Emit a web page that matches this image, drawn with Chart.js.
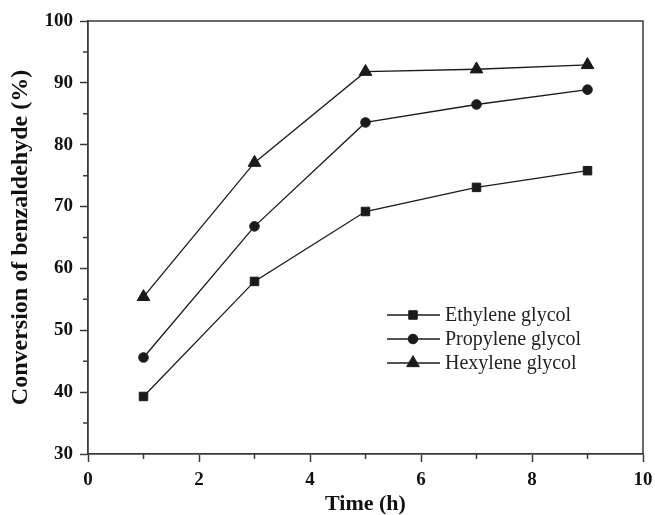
<!DOCTYPE html>
<html>
<head>
<meta charset="utf-8">
<script src="https://cdn.jsdelivr.net/npm/chart.js@4.4.1/dist/chart.umd.min.js"></script>
<style>
  html, body { margin: 0; padding: 0; background: #fff; }
  #wrap { width: 655px; height: 515px; }
</style>
</head>
<body>
<div id="wrap"><canvas id="conversionChart"></canvas></div>
<script>
// reaction time (h)
var times = [1, 3, 5, 7, 9];

// conversion of benzaldehyde (%) for each glycol
var ethyleneGlycol = [39.3, 57.9, 69.2, 73.1, 75.8];
var propyleneGlycol = [45.6, 66.8, 83.6, 86.5, 88.9];
var hexyleneGlycol = [55.4, 77.1, 91.8, 92.2, 92.9];

var seriesNames = ['Ethylene glycol', 'Propylene glycol', 'Hexylene glycol'];

var xTicks = [0, 2, 4, 6, 8, 10];
var yTicks = [30, 40, 50, 60, 70, 80, 90, 100];

var ink = '#1a1a1a';
var axisInk = '#3a3a3a';
var serif = "'Liberation Serif', 'Times New Roman', serif";

function toPoints(values) {
    return values.map(function (v, i) { return { x: times[i], y: v }; });
}

// outer frame plus the short minor ticks between the labelled ones
var framePlugin = {
    id: 'frame',
    afterDraw: function (chart) {
        var ctx = chart.ctx;
        var a = chart.chartArea;
        var xs = chart.scales.x;
        var ys = chart.scales.y;
        ctx.save();
        ctx.strokeStyle = axisInk;
        ctx.lineWidth = 1.5;
        ctx.beginPath();
        ctx.moveTo(a.left, a.top);
        ctx.lineTo(a.right, a.top);
        ctx.lineTo(a.right, a.bottom);
        ctx.stroke();

        ctx.beginPath();
        for (var t = 1; t < 10; t += 2) {
            var px = xs.getPixelForValue(t);
            ctx.moveTo(px, a.bottom);
            ctx.lineTo(px, a.bottom + 5);
        }
        for (var v = 35; v < 100; v += 10) {
            var py = ys.getPixelForValue(v);
            ctx.moveTo(a.left, py);
            ctx.lineTo(a.left - 5, py);
        }
        ctx.stroke();
        ctx.restore();
    }
};

// legend drawn inside the plot area, line + marker + name
var insideLegend = {
    id: 'insideLegend',
    afterDraw: function (chart) {
        var ctx = chart.ctx;
        var a = chart.chartArea;
        var x0 = a.left + 299;
        var y0 = a.top + 294;
        var rowGap = 24;
        ctx.save();
        chart.data.datasets.forEach(function (ds, i) {
            var y = y0 + i * rowGap;
            ctx.strokeStyle = ink;
            ctx.lineWidth = 1.3;
            ctx.beginPath();
            ctx.moveTo(x0, y);
            ctx.lineTo(x0 + 53, y);
            ctx.stroke();
            ctx.fillStyle = ink;
            ctx.strokeStyle = ink;
            ctx.lineWidth = 1;
            Chart.helpers.drawPoint(ctx, {
                pointStyle: ds.pointStyle,
                radius: ds.pointRadius,
                rotation: 0,
                borderWidth: 1
            }, x0 + 26, y);
            ctx.fillStyle = '#222';
            ctx.font = "20px " + serif;
            ctx.textBaseline = 'middle';
            ctx.textAlign = 'left';
            ctx.fillText(ds.label, x0 + 58, y + 1);
        });
        ctx.restore();
    }
};

function makeSet(label, values, style, radius) {
    return {
        label: label,
        data: toPoints(values),
        borderColor: ink,
        backgroundColor: ink,
        borderWidth: 1.3,
        pointStyle: style,
        pointRadius: radius,
        pointHoverRadius: radius,
        pointBackgroundColor: ink,
        pointBorderColor: ink,
        pointBorderWidth: 1,
        tension: 0,
        fill: false
    };
}

var ctx = document.getElementById('conversionChart').getContext('2d');
var chart = new Chart(ctx, {
    type: 'line',
    data: {
        datasets: [
            makeSet(seriesNames[0], ethyleneGlycol, 'rect', 6),
            makeSet(seriesNames[1], propyleneGlycol, 'circle', 4.8),
            makeSet(seriesNames[2], hexyleneGlycol, 'triangle', 7.3)
        ]
    },
    options: {
        responsive: true,
        maintainAspectRatio: false,
        animation: false,
        layout: { padding: { left: 6, right: 0, top: 21, bottom: 0 } },
        plugins: {
            legend: { display: false },
            tooltip: { enabled: false }
        },
        scales: {
            x: {
                type: 'linear',
                min: 0,
                max: 10,
                afterBuildTicks: function (scale) {
                    scale.ticks = xTicks.map(function (v) { return { value: v }; });
                },
                afterFit: function (scale) {
                    scale.height = 61;
                    scale.paddingRight = 12;
                },
                grid: {
                    drawOnChartArea: false,
                    drawTicks: true,
                    tickLength: 8,
                    tickWidth: 1.5,
                    tickColor: axisInk
                },
                border: { color: axisInk, width: 1.8 },
                ticks: {
                    color: '#111',
                    padding: 9,
                    maxRotation: 0,
                    font: { family: serif, size: 19, weight: 'bold', lineHeight: 1 }
                },
                title: {
                    display: true,
                    text: 'Time (h)',
                    color: '#111',
                    padding: { top: 4, bottom: 0 },
                    font: { family: serif, size: 22, weight: 'bold', lineHeight: 1 }
                }
            },
            y: {
                type: 'linear',
                min: 30,
                max: 100,
                afterBuildTicks: function (scale) {
                    scale.ticks = yTicks.map(function (v) { return { value: v }; });
                },
                afterFit: function (scale) {
                    scale.width = 82;
                },
                grid: {
                    drawOnChartArea: false,
                    drawTicks: true,
                    tickLength: 8,
                    tickWidth: 1.5,
                    tickColor: axisInk
                },
                border: { color: axisInk, width: 1.8 },
                ticks: {
                    color: '#111',
                    padding: 7,
                    font: { family: serif, size: 19, weight: 'bold' }
                },
                title: {
                    display: true,
                    text: 'Conversion of benzaldehyde (%)',
                    color: '#111',
                    padding: { top: 0, bottom: 4 },
                    font: { family: serif, size: 24, weight: 'bold' }
                }
            }
        }
    },
    plugins: [framePlugin, insideLegend]
});
</script>
</body>
</html>
